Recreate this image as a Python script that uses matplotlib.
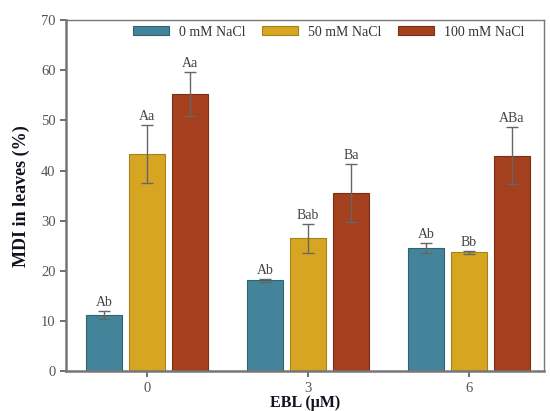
import numpy as np
import matplotlib
matplotlib.use("Agg")
import matplotlib.pyplot as plt

plt.rcParams['font.family'] = ['Liberation Serif', 'DejaVu Serif']

groups = ["0", "3", "6"]
series = ["0 mM NaCl", "50 mM NaCl", "100 mM NaCl"]
values = [
    [11.2, 18.1, 24.5],
    [43.3, 26.5, 23.7],
    [55.3, 35.6, 43.0],
]
errors = [
    [0.8, 0.3, 1.0],
    [5.7, 2.9, 0.3],
    [4.4, 5.8, 5.7],
]
letters = [
    ["Ab", "Ab", "Ab"],
    ["Aa", "Bab", "Bb"],
    ["Aa", "Ba", "ABa"],
]
colors = ["#43849A", "#D6A623", "#A4401E"]
edges = ["#2F6273", "#A88016", "#7A2E14"]

fig = plt.figure(figsize=(5.5, 4.11), dpi=100)
ax = fig.add_axes([0.12, 0.097, 0.869, 0.854])

x = np.arange(len(groups))
width = 0.22
step = 0.267
for i, name in enumerate(series):
    pos = x + (i - 1) * step
    ax.bar(pos, values[i], width, color=colors[i], edgecolor=edges[i],
           linewidth=0.8, label=name, zorder=2)
    ax.errorbar(pos, values[i], yerr=errors[i], fmt="none", ecolor="#666666",
                elinewidth=1.0, capsize=4, capthick=1.0, zorder=3)
    for p, v, e, t in zip(pos, values[i], errors[i], letters[i]):
        ax.text(p, v + e + 0.4, t, ha="center", va="bottom", fontsize=10,
                color="#444444")

ax.set_ylim(0, 70)
ax.set_xlim(-0.503, 2.466)
ax.set_yticks(range(0, 71, 10))
ax.set_xticks(x)
ax.set_xticklabels(groups)
ax.tick_params(axis="both", colors="#555555", labelsize=10.5, direction="out",
               length=4, width=1.2)
ax.tick_params(axis="x", pad=4)
for s in ["left", "bottom"]:
    ax.spines[s].set_color("#777777")
    ax.spines[s].set_linewidth(1.8)
for s in ["top", "right"]:
    ax.spines[s].set_color("#777777")
    ax.spines[s].set_linewidth(1.0)

ax.set_ylabel("MDI in leaves (%)", fontsize=13, fontweight="bold", color="#111122",
              labelpad=8)
ax.set_xlabel("EBL (μM)", fontsize=11.5, fontweight="bold", color="#111122",
              labelpad=0)

ax.legend(loc="upper center", bbox_to_anchor=(0.55, 1.02), ncol=3, frameon=False,
          fontsize=10, handlelength=2.6, handleheight=0.6, columnspacing=1.2,
          handletextpad=0.7, labelcolor="#333333")

fig.savefig("out.png", dpi=100)
